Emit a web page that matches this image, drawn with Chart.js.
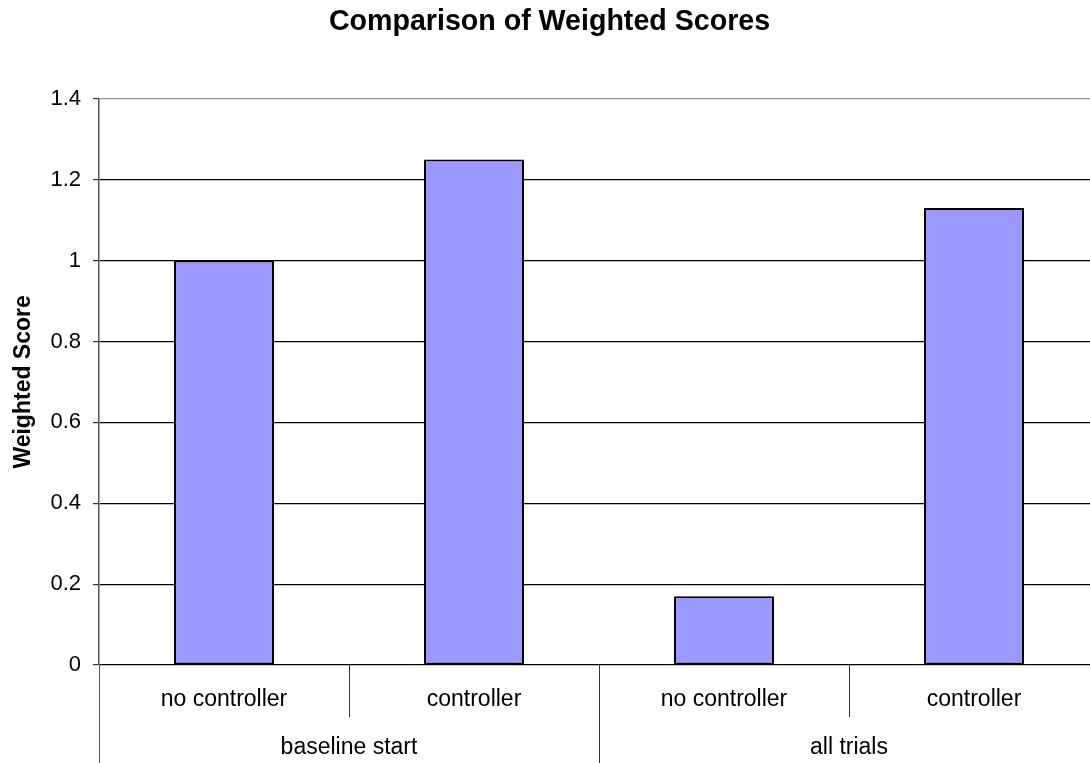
<!DOCTYPE html>
<html lang="en">
<head>
    <meta charset="UTF-8">
    <title>Comparison of Weighted Scores</title>
    <style>
        html, body {
            margin: 0;
            padding: 0;
            background: #fff;
            overflow: hidden;
        }
        #wrap {
            width: 1100px;
            height: 763px;
        }
    </style>
</head>
<body>
    <div id="wrap"><canvas id="scores"></canvas></div>

    <script src="https://cdn.jsdelivr.net/npm/chart.js"></script>
    <script>
        // inner and outer category levels
        const conditions = ['no controller', 'controller', 'no controller', 'controller'];
        const groups = ['baseline start', 'all trials'];
        const groupSize = [2, 2];
        const scores = [1.0, 1.25, 0.17, 1.13];

        const FONT = "'Liberation Sans', Arial, sans-serif";

        // draws the two-row category axis under the plot
        const groupedAxis = {
            id: 'groupedAxis',
            afterDraw(chart) {
                const ctx = chart.ctx;
                const x = chart.scales.x;
                const area = chart.chartArea;
                const step = x.width / conditions.length;
                const base = area.bottom;

                ctx.save();
                ctx.font = '23px ' + FONT;
                ctx.fillStyle = '#000';
                ctx.textAlign = 'center';
                ctx.textBaseline = 'middle';

                conditions.forEach((c, i) => {
                    ctx.fillText(c, x.getPixelForValue(i), base + 35);
                });

                // separators between inner categories
                ctx.strokeStyle = '#333';
                ctx.lineWidth = 1;
                for (let i = 1; i < conditions.length; i++) {
                    const px = Math.round(x.left + step * i) + 0.5;
                    ctx.beginPath();
                    ctx.moveTo(px, base);
                    ctx.lineTo(px, base + 52);
                    ctx.stroke();
                }

                // outer groups
                let start = 0;
                groups.forEach((g, gi) => {
                    const n = groupSize[gi];
                    const cx = (x.getPixelForValue(start) + x.getPixelForValue(start + n - 1)) / 2;
                    ctx.fillText(g, cx, base + 83);
                    const px = Math.round(x.left + step * start) + 0.5;
                    ctx.strokeStyle = gi === 0 ? '#555' : '#333';
                    ctx.beginPath();
                    ctx.moveTo(px, base);
                    ctx.lineTo(px, chart.height);
                    ctx.stroke();
                    start += n;
                });
                ctx.restore();
            }
        };

        new Chart(document.getElementById('scores'), {
            type: 'bar',
            data: {
                labels: conditions,
                datasets: [{
                    data: scores,
                    backgroundColor: '#9999ff',
                    borderColor: '#000',
                    borderWidth: 2,
                    borderSkipped: false,
                    barPercentage: 0.4,
                    categoryPercentage: 1
                }]
            },
            options: {
                responsive: true,
                maintainAspectRatio: false,
                animation: false,
                layout: { padding: { right: 1 } },
                plugins: {
                    legend: { display: false },
                    tooltip: { enabled: false },
                    title: {
                        display: true,
                        text: 'Comparison of Weighted Scores',
                        color: '#000',
                        font: { family: FONT, size: 28.6, weight: 'bold' },
                        padding: { top: 5, bottom: 59.5 }
                    }
                },
                scales: {
                    x: {
                        ticks: { display: false },
                        grid: { display: false },
                        border: { display: false },
                        afterFit: s => { s.height = 98; }
                    },
                    y: {
                        min: 0,
                        max: 1.4,
                        ticks: {
                            stepSize: 0.2,
                            color: '#000',
                            padding: 12,
                            font: { family: FONT, size: 22 },
                            callback: v => Math.round(v * 10) / 10
                        },
                        grid: {
                            color: c => (c.tick && c.tick.value >= 1.4) ? '#999' : '#000',
                            tickColor: '#333',
                            tickLength: 6,
                            lineWidth: 1.2
                        },
                        border: { color: '#555', width: 1.5 },
                        title: {
                            display: true,
                            text: 'Weighted Score',
                            color: '#000',
                            font: { family: FONT, size: 23, weight: 'bold' },
                            padding: { top: 10 }
                        },
                        afterFit: s => { s.width = 99; }
                    }
                }
            },
            plugins: [groupedAxis]
        });
    </script>
</body>
</html>
